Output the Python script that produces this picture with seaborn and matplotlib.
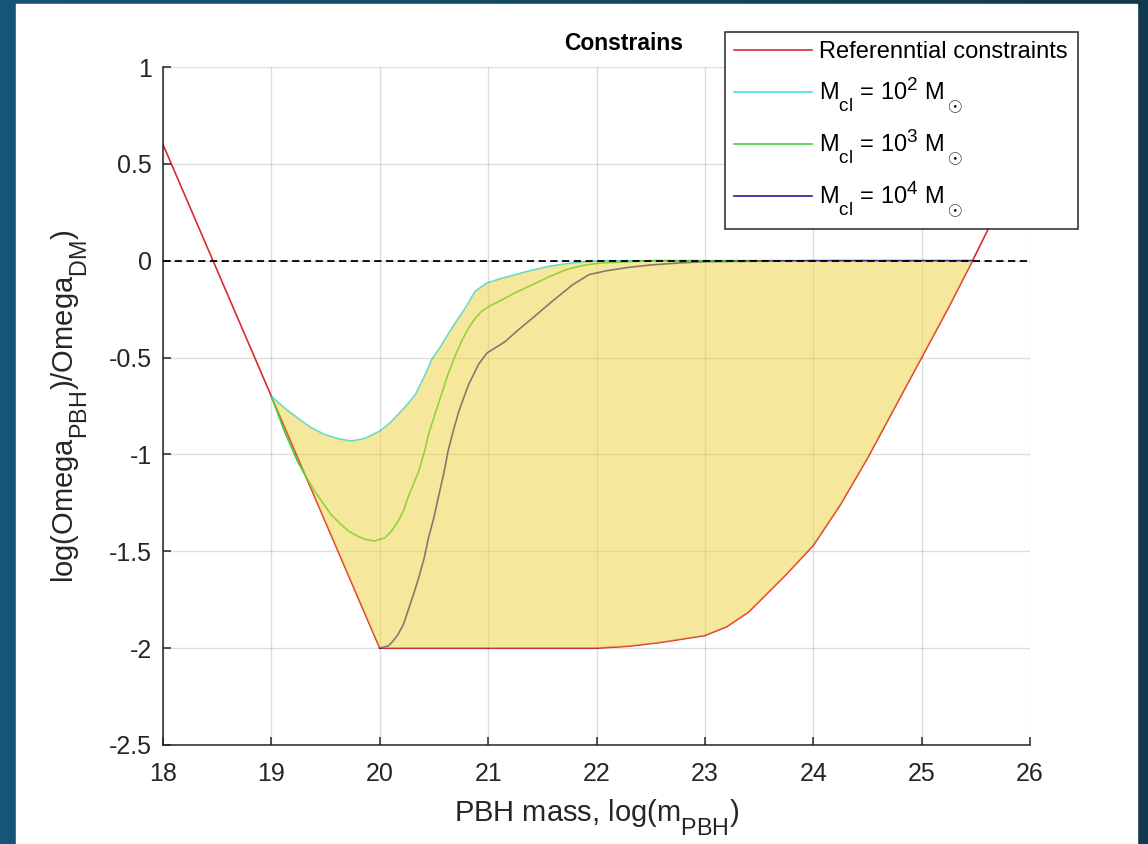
import numpy as np
import matplotlib
matplotlib.use("Agg")
import matplotlib.pyplot as plt
import matplotlib._mathtext as _mt
import seaborn as sns
from matplotlib.patches import Rectangle
from matplotlib.colors import LinearSegmentedColormap

# ---------------- data ----------------
ref_x = [18.0, 19.0, 20.0, 21.0, 22.0, 22.3, 22.6, 23.0, 23.2, 23.4, 23.5, 23.75, 24.0, 24.25, 24.5, 24.75, 25.0, 25.25, 25.47, 26.0]
ref_y = [0.6, -0.7, -2.0, -2.0, -2.0, -1.99, -1.97, -1.935, -1.89, -1.815, -1.76, -1.62, -1.47, -1.26, -1.02, -0.76, -0.5, -0.24, 0.0, 0.6]

c2_x = [19.0, 19.12, 19.24, 19.36, 19.49, 19.62, 19.74, 19.86, 20.0, 20.09, 20.17, 20.25, 20.33, 20.41, 20.48, 20.56, 20.63, 20.71, 20.79, 20.88, 20.99, 21.12, 21.25, 21.4, 21.56, 21.72, 21.87, 22.03, 22.5, 23.0, 24.0, 25.0, 25.47]
c2_y = [-0.7, -0.76, -0.811, -0.86, -0.897, -0.92, -0.931, -0.918, -0.88, -0.84, -0.794, -0.745, -0.69, -0.6, -0.51, -0.445, -0.38, -0.31, -0.244, -0.158, -0.115, -0.092, -0.072, -0.05, -0.029, -0.016, -0.007, 0.0, 0.0, 0.0, 0.0, 0.0, 0.0]

c3_x = [19.0, 19.06, 19.12, 19.24, 19.32, 19.4, 19.55, 19.63, 19.71, 19.79, 19.86, 19.95, 20.05, 20.11, 20.17, 20.22, 20.26, 20.31, 20.36, 20.41, 20.45, 20.51, 20.57, 20.63, 20.7, 20.76, 20.82, 20.88, 20.94, 21.02, 21.1, 21.25, 21.41, 21.56, 21.72, 21.87, 22.03, 22.5, 23.0, 24.0, 25.0, 25.47]
c3_y = [-0.7, -0.79, -0.88, -1.034, -1.115, -1.19, -1.31, -1.355, -1.395, -1.42, -1.438, -1.447, -1.43, -1.395, -1.344, -1.29, -1.223, -1.155, -1.086, -0.99, -0.897, -0.79, -0.69, -0.585, -0.485, -0.41, -0.347, -0.298, -0.261, -0.232, -0.21, -0.165, -0.124, -0.083, -0.046, -0.025, -0.012, 0.0, 0.0, 0.0, 0.0, 0.0]

c4_x = [20.0, 20.08, 20.12, 20.17, 20.22, 20.26, 20.31, 20.36, 20.41, 20.45, 20.5, 20.54, 20.59, 20.63, 20.68, 20.73, 20.78, 20.82, 20.87, 20.91, 20.99, 21.08, 21.16, 21.28, 21.41, 21.52, 21.63, 21.78, 21.93, 22.09, 22.3, 22.5, 22.75, 23.0, 24.0, 25.0, 25.47]
c4_y = [-2.0, -1.988, -1.965, -1.928, -1.875, -1.808, -1.725, -1.636, -1.535, -1.43, -1.325, -1.223, -1.1, -0.983, -0.875, -0.777, -0.7, -0.639, -0.583, -0.536, -0.476, -0.445, -0.416, -0.356, -0.296, -0.243, -0.192, -0.124, -0.072, -0.052, -0.034, -0.022, -0.012, -0.005, 0.0, 0.0, 0.0]

labels = ["Referenntial constraints",
          r"M$_{\rm cl}$ = 10$^2$ M$_\odot$",
          r"M$_{\rm cl}$ = 10$^3$ M$_\odot$",
          r"M$_{\rm cl}$ = 10$^4$ M$_\odot$"]
colors = ["#DC2B2B", "#45DDF0", "#3FCF3F", "#1F1F9E"]

xticks = [18, 19, 20, 21, 22, 23, 24, 25, 26]
yticks = [1, 0.5, 0, -0.5, -1, -1.5, -2, -2.5]
ytick_labels = ["1", "0.5", "0", "-0.5", "-1", "-1.5", "-2", "-2.5"]

# ---------------- style ----------------
plt.rcParams['font.family'] = ['Liberation Sans', 'DejaVu Sans']
plt.rcParams['mathtext.fontset'] = 'custom'
plt.rcParams['mathtext.rm'] = 'Liberation Sans'
plt.rcParams['mathtext.it'] = 'Liberation Sans:italic'
plt.rcParams['mathtext.bf'] = 'Liberation Sans:bold'
# MATLAB-like sub/superscripts: larger and lower subscripts
_mt.SHRINK_FACTOR = 0.8
_mt.FontConstantsBase.sub1 = 0.9
_mt.FontConstantsBase.sub2 = 0.9

W, H = 1148, 844
fig = plt.figure(figsize=(W / 100, H / 100), dpi=100)

# background gradient + white panel
bg = fig.add_axes([0, 0, 1, 1], zorder=-10)
grad = np.linspace(0, 1, 256)[None, :]
cm = LinearSegmentedColormap.from_list("bg", ["#185677", "#11394F"])
bg.imshow(grad, aspect='auto', cmap=cm, extent=[0, 1, 0, 1])
bg.add_patch(Rectangle((16 / W, 0), (1137 - 16) / W, (H - 4) / H, color='white', zorder=2))
bg.set_xlim(0, 1); bg.set_ylim(0, 1)
bg.axis('off')

ax = fig.add_axes([163 / W, 1 - 745 / H, (1030 - 163) / W, (745 - 67) / H])
ax.set_facecolor('white')

series = [(ref_x, ref_y), (c2_x, c2_y), (c3_x, c3_y), (c4_x, c4_y)]
for (xs, ys), lab, col in zip(series, labels, colors):
    sns.lineplot(x=xs, y=ys, ax=ax, color=col, linewidth=1.2, sort=False,
                 estimator=None, label=lab, zorder=2)

# yellow shaded region between reference constraint and M_cl=1e2 curve
rx = np.array(ref_x); ry = np.array(ref_y)
m = (rx >= 19.0) & (rx <= 25.47)
poly_x = np.concatenate([rx[m], np.array(c2_x)[::-1]])
poly_y = np.concatenate([ry[m], np.array(c2_y)[::-1]])
ax.fill(poly_x, poly_y, color='#EDD33A', alpha=0.5, lw=0, zorder=3)

ax.axhline(0, color='black', lw=1.3, linestyle=(0, (4, 2.5)), zorder=4)

ax.set_xlim(18, 26)
ax.set_ylim(-2.5, 1)
ax.set_xticks(xticks)
ax.set_yticks(yticks)
ax.set_yticklabels(ytick_labels)
ax.grid(True, color='black', alpha=0.13, lw=1.0)
ax.set_axisbelow(False)
for s in ['top', 'right']:
    ax.spines[s].set_visible(False)
for s in ['left', 'bottom']:
    ax.spines[s].set_color('#262626')
    ax.spines[s].set_linewidth(1.1)
ax.tick_params(axis='both', direction='in', length=6, width=1.1, colors='#262626',
               labelsize=18, labelcolor='#262626')
ax.tick_params(axis='x', pad=12)
ax.tick_params(axis='y', pad=8)
ax.set_xlabel("")
ax.set_ylabel("")

fig.text(624 / W, 1 - 44 / H, "Constrains", fontsize=16.5, fontweight='bold',
         ha='center', va='center', color='black')
fig.text(597 / W, 1 - 822 / H, r"PBH mass, log(m$_{\rm PBH}$)", fontsize=21,
         ha='center', va='baseline', color='#262626')
fig.text(70 / W, 1 - 406 / H, r"log(Omega$_{\rm PBH}$)/Omega$_{\rm DM}$)", fontsize=21,
         ha='center', va='center', rotation=90, color='#262626')

leg = ax.legend(loc='upper left', bbox_to_anchor=(725 / W, 1 - 32 / H),
                bbox_transform=fig.transFigure, fontsize=17, frameon=True,
                fancybox=False, edgecolor='#262626', framealpha=1,
                handlelength=3.3, handletextpad=0.3, labelspacing=0.5,
                borderpad=0.4, borderaxespad=0)
leg.get_frame().set_linewidth(1.1)
leg.set_zorder(10)

fig.savefig("out.png", dpi=100)
